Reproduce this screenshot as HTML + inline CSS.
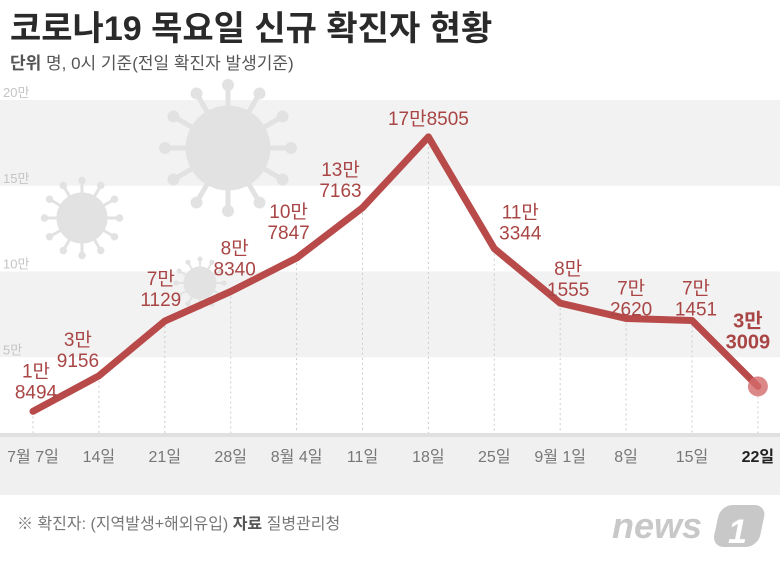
<!DOCTYPE html>
<html><head><meta charset="utf-8"><style>
body{margin:0;width:780px;height:561px;overflow:hidden;background:#fff;font-family:"Liberation Sans","Noto Sans CJK KR",sans-serif;}
</style></head><body>
<svg width="780" height="561" xmlns="http://www.w3.org/2000/svg" font-family="Liberation Sans, Noto Sans CJK KR, sans-serif">
<text x="10" y="40" font-size="34" font-weight="bold" fill="#2a2a2a">코로나19 목요일 신규 확진자 현황</text>
<text x="10" y="69" font-size="17" fill="#555"><tspan font-weight="bold">단위</tspan> 명, 0시 기준(전일 확진자 발생기준)</text>
<g id="bands"></g>
<g id="virus" fill="#e2e2e2" stroke="#e2e2e2"></g>
<g id="grid"></g>
<rect x="0" y="433" width="780" height="62" fill="#f0f0f0"/>
<rect x="0" y="433" width="780" height="4" fill="#e0e0e0"/>
<g id="xlabels"></g>
<g id="series"></g>
<text x="17" y="529" font-size="16" fill="#777">※ 확진자: (지역발생+해외유입) <tspan font-weight="bold" fill="#555">자료</tspan> 질병관리청</text>
<text x="612" y="538" font-size="36" font-weight="bold" font-style="italic" fill="#c8c8c8">news</text>
<rect x="720" y="505" width="46" height="42" rx="12" fill="#c8c8c8" transform="skewX(-12) translate(108 0)"/>
<text x="728" y="543" font-size="34" font-weight="bold" font-style="italic" fill="#fff">1</text>
</svg>
<script>
const categories=["7월 7일","14일","21일","28일","8월 4일","11일","18일","25일","9월 1일","8일","15일","22일"];
const values=[18494,39156,71129,88340,107847,137163,178505,113344,81555,72620,71451,33009];
const labelTop=["1만","3만","7만","8만","10만","13만","17만8505","11만","8만","7만","7만","3만"];
const labelBottom=["8494","9156","1129","8340","7847","7163","","3344","1555","2620","1451","3009"];
const yTicks=[50000,100000,150000,200000];
const yTickLabels=["5만","10만","15만","20만"];
// label layout offsets (dx, dy of bottom baseline relative to point) — layout, not data
const labelDX=[3,-21,-4,4,-8,-22,0,26,8,5,4,-10];
const labelDY=[-13,-9,-15,-16,-19,-11,-12,-9,-7,-3,-5,-38];
const NS="http://www.w3.org/2000/svg";
const x=i=>33+i*65.9;
const y=v=>443-v*0.001715;
function mk(tag,attrs,parent,text){const e=document.createElementNS(NS,tag);for(const k in attrs)e.setAttribute(k,attrs[k]);if(text!==undefined)e.textContent=text;parent.appendChild(e);return e;}
const bands=document.getElementById('bands');
[[150000,200000],[50000,100000]].forEach((b,i)=>{const r=mk('rect',{x:0,y:y(b[1]),width:780,height:y(b[0])-y(b[1]),fill:'#f2f2f2'},bands);

});
yTicks.forEach((t,i)=>{const e=mk('text',{x:3,y:y(t)-3,'font-size':13,fill:'#c4c4c4'},bands,yTickLabels[i]);

});
const vg=document.getElementById('virus');
[[228,148,42],[82,218,25],[200,283,16]].forEach(c=>{const g=mk('g',{},vg);


mk('circle',{cx:c[0],cy:c[1],r:c[2]},g);
for(let k=0;k<12;k++){const a=k*Math.PI/6;const r1=c[2],r2=c[2]*1.5;
mk('line',{x1:c[0]+r1*Math.cos(a),y1:c[1]+r1*Math.sin(a),x2:c[0]+r2*Math.cos(a),y2:c[1]+r2*Math.sin(a),'stroke-width':c[2]*0.12},g);
mk('circle',{cx:c[0]+r2*Math.cos(a),cy:c[1]+r2*Math.sin(a),r:c[2]*0.13},g);}});
const grid=document.getElementById('grid');
const xl=document.getElementById('xlabels');
categories.forEach((c,i)=>{const l=mk('line',{x1:x(i),x2:x(i),y1:y(values[i]),y2:435,stroke:'#ccc','stroke-dasharray':'2,3'},grid);


const last=i===categories.length-1;
const t=mk('text',{x:x(i),y:462,'text-anchor':'middle','font-size':16,fill:last?'#222':'#777','font-weight':last?'bold':'normal'},xl,c);

});
const sg=document.getElementById('series');
const line=mk('polyline',{points:values.map((v,i)=>x(i)+','+y(v)).join(' '),fill:'none',stroke:'#b84a4a','stroke-width':7,'stroke-linejoin':'round','stroke-linecap':'round'},sg);


const li=values.length-1;
const dot=mk('circle',{cx:x(li),cy:y(values[li]),r:10,fill:'#d46a6a',opacity:0.8},sg);


values.forEach((v,i)=>{const last=i===li;const peak=i===6;
const lx=x(i)+labelDX[i],ly=y(v)+labelDY[i];
const g=mk('g',{},sg);


const fs=last?20:19;const fw=last?'bold':'normal';
if(peak){mk('text',{x:lx,y:ly,'text-anchor':'middle','font-size':fs,fill:'#a94545'},g,labelTop[i]);}
else{mk('text',{x:lx,y:ly-21,'text-anchor':'middle','font-size':fs,'font-weight':fw,fill:'#a94545'},g,labelTop[i]);
mk('text',{x:lx,y:ly,'text-anchor':'middle','font-size':fs,'font-weight':fw,fill:'#a94545'},g,labelBottom[i]);}});
</script>
</body></html>
